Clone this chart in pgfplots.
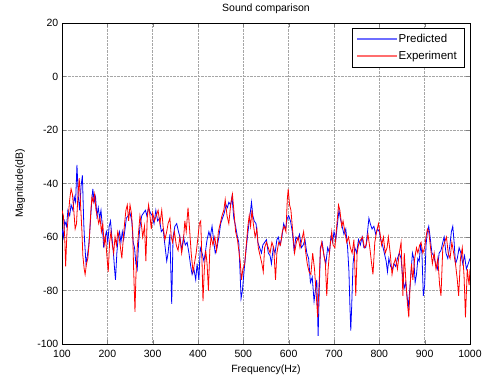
\documentclass[border=0pt]{standalone}
\usepackage{pgfplots}
\pgfplotsset{compat=1.18}
\usepackage{fontspec}
\setmainfont{Liberation Sans}
\definecolor{mblue}{RGB}{0,0,255}
\definecolor{mred}{RGB}{255,0,0}
\definecolor{lblue}{RGB}{110,110,255}
\definecolor{lred}{RGB}{255,110,110}
\begin{document}
\fontsize{10.5}{12}\selectfont
\begin{tikzpicture}
\begin{axis}[
  scale only axis,
  width=408pt, height=321pt,
  xmin=100, xmax=1000, ymin=-100, ymax=20,
  xtick={100,200,...,1000}, ytick={-100,-80,...,20},
  grid=major,
  major grid style={gray!70, densely dotted, line width=0.5pt},
  tick align=inside, tick pos=both,
  major tick length=4pt,
  axis line style={line width=0.6pt},
  /pgf/number format/assume math mode=true,
  /pgf/number format/set thousands separator={},
  tick label style={font=\fontsize{10.5}{12}\selectfont},
  xticklabel style={yshift=-2pt},
  title={Sound comparison},
  title style={font=\fontsize{10.5}{12}\selectfont, yshift=0pt},
  xlabel={Frequency(Hz)},
  ylabel={Magnitude(dB)},
  xlabel style={font=\fontsize{10.5}{12}\selectfont, yshift=-1pt},
  ylabel style={font=\fontsize{10.5}{12}\selectfont, yshift=5pt},
  legend style={at={(1,1)}, anchor=north east, xshift=-6pt, yshift=-5pt,
    fill=white, font=\fontsize{11.5}{13}\selectfont, row sep=3pt,
    inner xsep=5pt, inner ysep=4pt},
  legend cell align=left,
]
\addlegendimage{legend image code/.code={\fill[lblue] (0pt,-0.5pt) rectangle (39pt,0.5pt);}}
\addlegendentry{Predicted}
\addlegendimage{legend image code/.code={\fill[lred] (0pt,-0.5pt) rectangle (39pt,0.5pt);}}
\addlegendentry{Experiment}
\addplot[color=mblue, line width=0.8pt, forget plot] coordinates {
(100,-57)(103,-60)(106,-54)(110,-56)(113,-50)(117,-52)(120,-48)(124,-50)(127,-45)(130,-47)
(133,-33)(136,-45)(139,-50)(142,-41)(145,-37)(148,-55)(150,-62)(153,-70)(156,-67)(159,-63)
(162,-56)(165,-48)(168,-42)(171,-47)(174,-45)(177,-52)(180,-49)(183,-53)(186,-50)(189,-56)
(192,-64)(195,-60)(198,-58)(201,-62)(204,-56)(207,-54)(210,-60)(213,-65)(216,-72)(218,-76)
(221,-66)(224,-60)(227,-58)(230,-62)(233,-58)(236,-61)(239,-57)(242,-53)(246,-52)(250,-51)
(254,-54)(257,-62)(260,-64)(263,-70)(266,-72)(269,-62)(272,-56)(276,-52)(280,-51)(284,-50)
(287,-52)(291,-49)(295,-51)(299,-52)(303,-55)(307,-50)(311,-54)(315,-53)(319,-58)(323,-57)
(327,-63)(331,-69)(334,-66)(338,-59)(342,-85)(345,-60)(349,-56)(353,-55)(357,-58)(360,-60)
(364,-65)(368,-60)(372,-63)(376,-62)(380,-66)(384,-71)(387,-74)(391,-72)(395,-76)(398,-70)
(402,-76)(405,-64)(409,-66)(413,-69)(416,-66)(420,-61)(424,-58)(427,-60)(431,-56)(435,-62)
(438,-66)(442,-64)(446,-60)(450,-55)(454,-53)(458,-51)(462,-48)(465,-49)(468,-47)(472,-48)
(475,-45)(479,-53)(483,-56)(487,-60)(490,-62)(493,-74)(495,-83)(498,-80)(502,-72)(506,-65)
(509,-60)(513,-54)(516,-50)(518,-47)(521,-52)(524,-54)(528,-55)(532,-62)(536,-64)(540,-66)
(543,-63)(547,-62)(551,-61)(555,-66)(559,-67)(562,-70)(566,-64)(570,-66)(574,-61)(577,-60)
(581,-63)(585,-60)(589,-55)(593,-57)(597,-53)(600,-52)(604,-54)(608,-58)(612,-65)(616,-60)
(620,-61)(624,-59)(628,-64)(632,-63)(636,-61)(640,-66)(644,-68)(648,-77)(652,-75)(656,-84)
(659,-80)(662,-76)(665,-97)(667,-83)(670,-64)(674,-62)(678,-67)(682,-70)(686,-64)(690,-66)
(693,-60)(697,-62)(700,-58)(704,-61)(707,-56)(711,-50)(714,-53)(718,-56)(722,-59)(726,-57)
(730,-64)(733,-73)(735,-85)(737,-95)(739,-86)(742,-70)(746,-64)(750,-66)(754,-61)(758,-63)
(762,-60)(766,-64)(770,-64)(774,-58)(777,-53)(780,-55)(784,-57)(788,-56)(792,-59)(796,-57)
(800,-58)(803,-61)(807,-63)(811,-66)(815,-69)(818,-73)(821,-68)(825,-71)(829,-72)(832,-70)
(836,-71)(840,-68)(844,-66)(848,-68)(852,-76)(855,-79)(858,-77)(861,-82)(864,-86)(867,-80)
(870,-73)(873,-66)(876,-68)(879,-77)(882,-74)(885,-68)(888,-69)(891,-63)(894,-66)(897,-82)
(900,-78)(903,-63)(906,-58)(909,-56)(912,-60)(916,-66)(920,-67)(924,-70)(928,-72)(932,-66)
(936,-65)(940,-62)(943,-60)(947,-66)(951,-68)(955,-64)(959,-58)(962,-56)(965,-62)(968,-70)
(972,-68)(976,-64)(980,-66)(984,-70)(988,-67)(992,-72)(996,-70)(1000,-68)
};
\addplot[color=mred, line width=0.8pt, forget plot] coordinates {
(100,-50)(103,-52)(106,-60)(108,-71)(111,-58)(114,-52)(117,-46)(120,-42)(123,-44)(126,-50)
(129,-57)(132,-55)(135,-45)(138,-38)(141,-48)(144,-58)(146,-67)(149,-72)(151,-74)(154,-70)
(157,-68)(160,-62)(163,-52)(166,-45)(169,-47)(172,-44)(175,-50)(178,-52)(181,-55)(184,-53)
(187,-58)(190,-55)(193,-63)(196,-60)(199,-67)(202,-73)(205,-62)(208,-58)(211,-63)(214,-66)
(217,-60)(220,-63)(223,-58)(226,-60)(229,-64)(232,-68)(235,-61)(238,-55)(241,-50)(244,-48)
(247,-54)(250,-48)(253,-51)(256,-58)(258,-72)(261,-88)(263,-75)(266,-64)(269,-58)(272,-52)
(275,-55)(278,-60)(282,-56)(285,-69)(288,-53)(291,-48)(294,-52)(297,-57)(300,-51)(304,-54)
(308,-52)(312,-50)(316,-55)(320,-50)(323,-56)(327,-61)(331,-58)(334,-55)(338,-53)(341,-60)
(344,-62)(348,-58)(352,-63)(356,-65)(360,-60)(364,-66)(368,-61)(371,-54)(374,-58)(378,-49)
(381,-56)(385,-66)(389,-73)(392,-70)(396,-66)(400,-60)(403,-55)(406,-54)(409,-70)(411,-84)
(414,-72)(417,-65)(420,-70)(423,-80)(426,-65)(429,-60)(433,-63)(437,-60)(441,-65)(445,-58)
(449,-55)(453,-52)(457,-50)(460,-46)(464,-52)(468,-55)(472,-48)(476,-44)(479,-50)(483,-58)
(487,-61)(490,-65)(493,-69)(496,-76)(499,-72)(503,-70)(507,-62)(510,-56)(513,-52)(516,-56)
(519,-50)(522,-55)(526,-60)(530,-57)(533,-64)(537,-67)(541,-70)(544,-73)(547,-64)(551,-62)
(555,-64)(559,-66)(563,-62)(567,-64)(571,-76)(574,-66)(578,-62)(582,-63)(586,-58)(590,-56)
(594,-58)(597,-46)(599,-42)(602,-48)(605,-50)(609,-58)(613,-66)(617,-62)(621,-60)(625,-64)
(629,-61)(633,-58)(637,-65)(641,-70)(645,-73)(649,-74)(653,-66)(657,-72)(661,-82)(664,-90)
(667,-78)(670,-65)(673,-62)(677,-66)(681,-70)(684,-82)(687,-72)(691,-64)(695,-58)(698,-63)
(702,-64)(705,-58)(708,-52)(710,-48)(713,-50)(717,-56)(720,-54)(724,-58)(728,-62)(732,-60)
(736,-64)(740,-66)(744,-61)(748,-82)(751,-66)(755,-62)(759,-61)(763,-60)(767,-64)(771,-63)
(775,-59)(779,-64)(783,-70)(786,-74)(790,-62)(794,-58)(798,-55)(801,-58)(805,-63)(809,-60)
(813,-66)(817,-64)(820,-60)(824,-66)(828,-74)(832,-70)(836,-68)(840,-72)(844,-66)(848,-62)
(852,-82)(855,-66)(858,-75)(862,-85)(865,-90)(868,-78)(871,-70)(874,-76)(878,-68)(882,-64)
(885,-66)(889,-63)(892,-62)(896,-66)(900,-64)(903,-60)(906,-57)(909,-58)(913,-64)(917,-70)
(921,-66)(925,-72)(929,-68)(933,-78)(936,-82)(940,-64)(944,-62)(948,-60)(952,-66)(956,-68)
(960,-62)(964,-66)(968,-70)(972,-76)(975,-82)(979,-68)(983,-64)(987,-75)(990,-90)(994,-72)
(998,-78)(1000,-72)
};
\end{axis}
\pgfresetboundingbox
\path[use as bounding box] (-62pt,-37pt) rectangle (427pt,344pt);
\end{tikzpicture}
\end{document}
